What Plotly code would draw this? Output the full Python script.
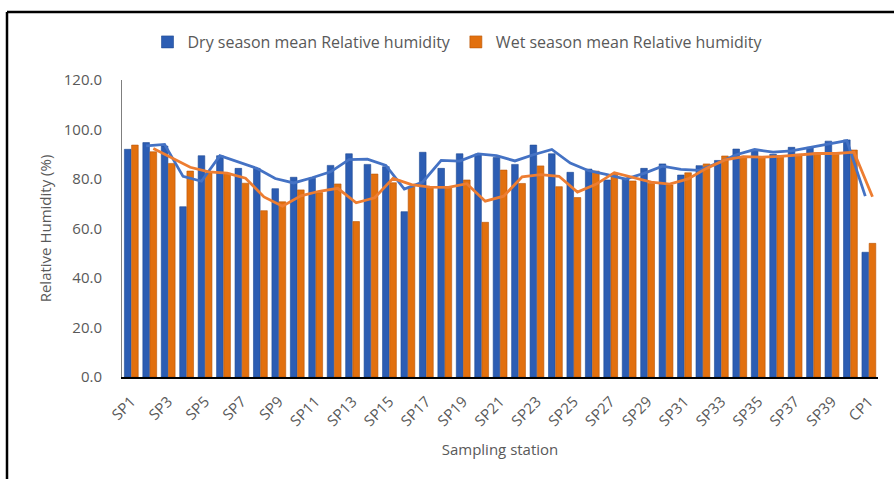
import numpy as np
import pandas as pd
import plotly.graph_objects as go

stations = [f"SP{i}" for i in range(1, 41)] + ["CP1"]

dry_rh = [92.0, 94.7, 93.3, 68.8, 89.4, 89.4, 84.3, 84.3, 76.1, 80.7,
          80.3, 85.5, 90.2, 85.9, 85.0, 66.8, 90.8, 84.3, 90.2, 90.1,
          88.7, 85.9, 93.7, 90.2, 82.7, 84.0, 79.6, 80.3, 84.3, 86.1,
          81.6, 85.4, 87.5, 92.1, 91.7, 90.0, 92.8, 92.8, 95.3, 95.8,
          50.4]
wet_rh = [93.7, 91.0, 86.3, 83.2, 82.5, 82.3, 78.3, 67.2, 70.8, 75.6,
          74.5, 78.0, 62.8, 82.0, 78.5, 76.9, 76.6, 76.6, 79.6, 62.5,
          83.6, 78.2, 85.3, 76.9, 72.5, 83.2, 81.9, 79.2, 78.2, 77.6,
          82.5, 86.1, 89.3, 88.8, 88.8, 89.5, 90.0, 90.6, 90.0, 91.7,
          54.0]

y_ticks = [0, 20, 40, 60, 80, 100, 120]

idx = np.arange(len(stations))
dry_ma = pd.Series(dry_rh).rolling(2).mean()
wet_ma = pd.Series(wet_rh).rolling(2).mean()

BLUE = "#2C5DB3"
ORANGE = "#E2700E"
BLUE_LINE = "#4472C4"
ORANGE_LINE = "#ED7D31"
GREY = "#595959"
FONT = "Open Sans"

bw = 0.36
off_dry = -0.37
off_wet = 0.02

fig = go.Figure()
fig.add_trace(go.Bar(x=idx, y=dry_rh, name="Dry season mean Relative humidity",
                     width=bw, offset=off_dry,
                     marker=dict(color=BLUE, line=dict(color="#1F4A94", width=0.6))))
fig.add_trace(go.Bar(x=idx, y=wet_rh, name="Wet season mean Relative humidity",
                     width=bw, offset=off_wet,
                     marker=dict(color=ORANGE, line=dict(color="#B85508", width=0.6))))
fig.add_trace(go.Scatter(x=idx + off_dry + bw / 2, y=dry_ma, mode="lines",
                         line=dict(color=BLUE_LINE, width=2.8), showlegend=False,
                         hoverinfo="skip"))
fig.add_trace(go.Scatter(x=idx + off_wet + bw / 2, y=wet_ma, mode="lines",
                         line=dict(color=ORANGE_LINE, width=2.8), showlegend=False,
                         hoverinfo="skip"))

L, R, T, B = 122, 16, 80, 102
W, H = 894, 479
pw, ph = W - L - R, H - T - B

def px(x):
    return (x - L) / pw

def py(y):
    return (H - B - y) / ph

fig.update_layout(
    width=W, height=H,
    margin=dict(l=L, r=R, t=T, b=B, autoexpand=False),
    paper_bgcolor="white", plot_bgcolor="white",
    font=dict(family=FONT, color=GREY, size=15),
    barmode="overlay",
    legend=dict(orientation="h", x=px(458), xanchor="center", y=py(42), yanchor="middle",
                font=dict(size=16, color=GREY), itemwidth=30,
                traceorder="normal"),
    xaxis=dict(range=[-0.5, len(stations) - 0.5],
               tickmode="array", tickvals=idx[::2], ticktext=stations[::2],
               tickangle=-45, tickfont=dict(size=15, color=GREY),
               showgrid=False, zeroline=False, automargin=False,
               showline=True, linecolor="black", linewidth=2,
               ticks="outside", ticklen=8, tickcolor="rgba(0,0,0,0)",
               title=dict(text="Sampling station",
                          font=dict(size=15, color=GREY), standoff=16)),
    yaxis=dict(range=[0, 120], tickmode="array", tickvals=y_ticks,
               ticktext=[f"{v:.1f}" for v in y_ticks],
               tickfont=dict(size=15, color=GREY),
               showgrid=False, zeroline=False, automargin=False,
               showline=True, linecolor="#7F7F7F", linewidth=1,
               ticks="outside", ticklen=16, tickcolor="rgba(0,0,0,0)",
               title=dict(text="Relative Humidity (%)",
                          font=dict(size=15, color=GREY), standoff=8)),
    shapes=[
        dict(type="line", xref="paper", yref="paper",
             x0=px(7), x1=px(W + 5), y0=py(12), y1=py(12),
             line=dict(color="black", width=2.5)),
        dict(type="line", xref="paper", yref="paper",
             x0=px(7), x1=px(7), y0=py(12), y1=py(H + 5),
             line=dict(color="black", width=2.5)),
    ],
)

fig.write_html("out.html", config={"displayModeBar": False},
               post_script="document.body.style.margin='0';document.body.style.overflow='hidden';")
